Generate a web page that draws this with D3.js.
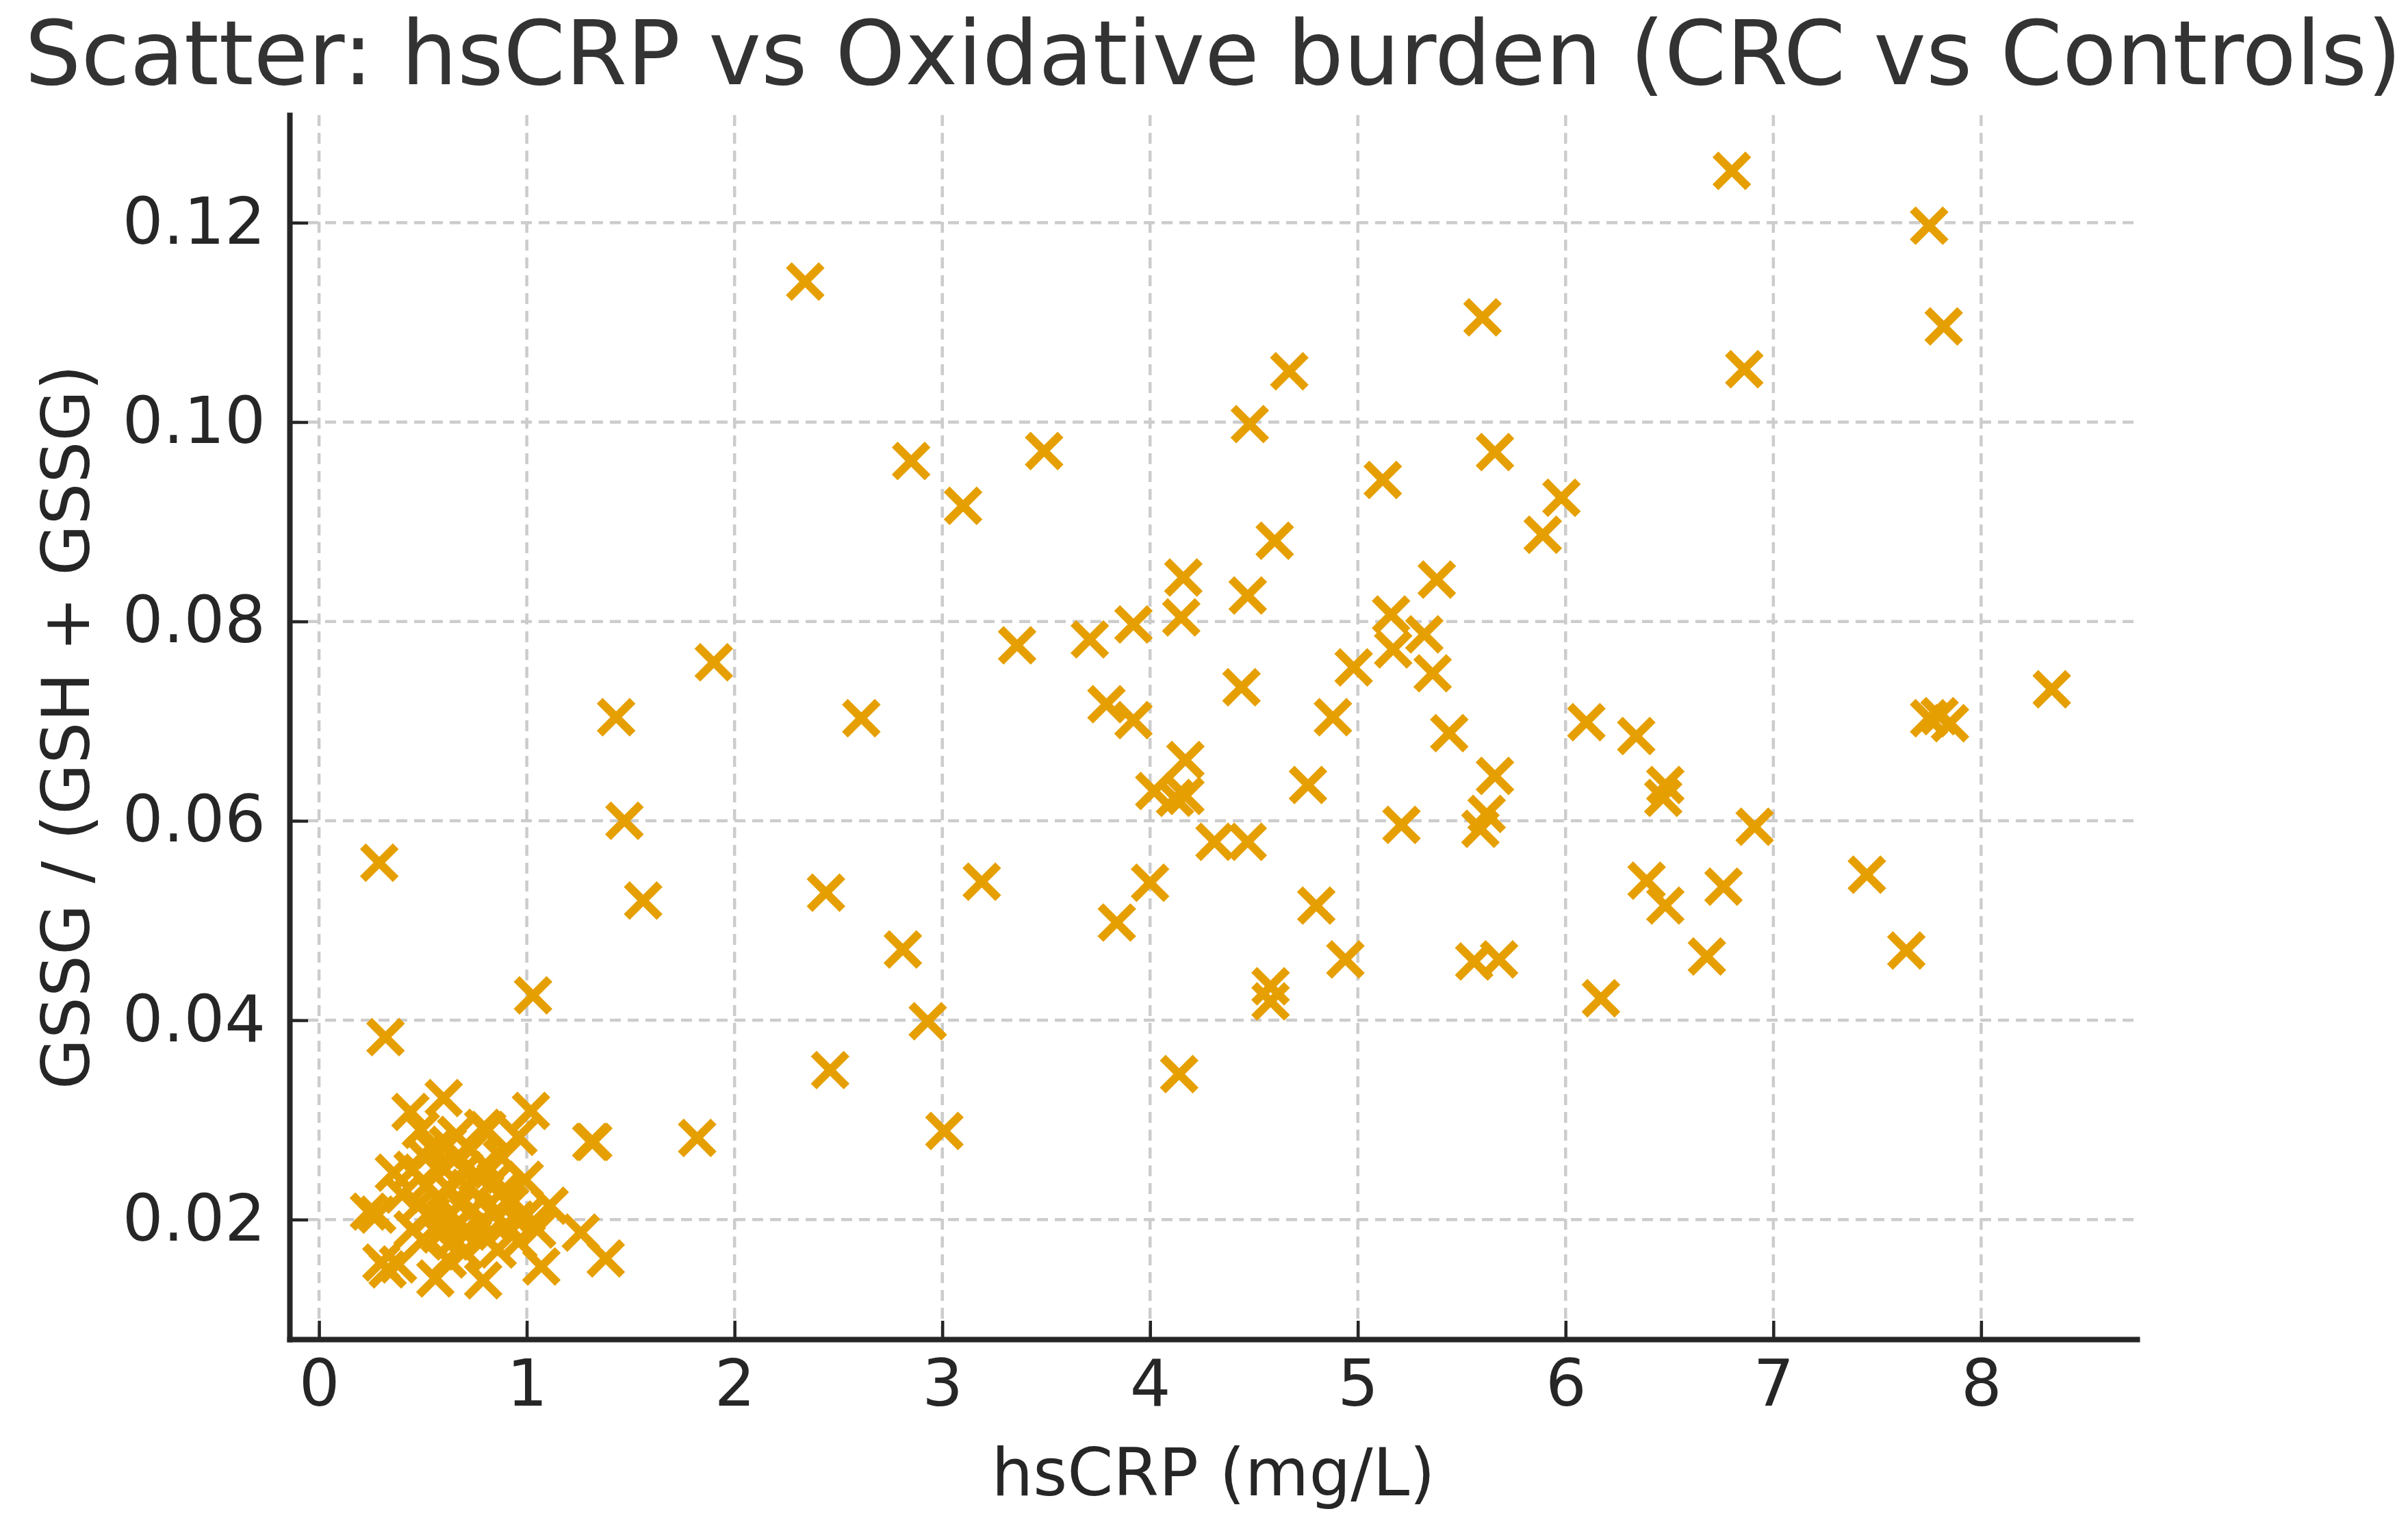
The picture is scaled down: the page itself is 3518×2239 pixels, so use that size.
<!DOCTYPE html>
<meta charset="utf-8">
<head>
  <style>
    html, body { margin: 0; padding: 0; background: #fff; }
    svg text { font-family: 'DejaVu Sans', sans-serif; }
  </style>
  <script src="https://d3js.org/d3.v7.min.js"></script>
</head>
<body>
  <div id="chart"></div>
  <script>

    // hsCRP (mg/L) and GSSG / (GSH + GSSG)
    const hsCRP = [
      // low cluster
      0.24, 0.28, 0.30, 0.33, 0.38, 0.36, 0.44, 0.60, 0.49, 0.79, 1.02, 1.31, 0.81, 0.96, 0.99, 1.11,
      1.26, 1.38, 1.07, 0.79, 0.56, 0.62, 0.50, 0.55, 0.58, 0.62, 0.66, 0.70, 0.52, 0.57, 0.63, 0.68,
      0.72, 0.76, 0.80, 0.85, 0.88, 0.92, 0.84, 0.78, 0.74, 0.66, 0.60, 0.54, 0.48, 0.45, 0.50, 0.58,
      0.64, 0.72, 0.80, 0.90, 0.95, 1.00, 0.86, 0.96, 1.05, 0.70, 0.45, 0.40, 0.66, 0.73, 0.88,
      // spread
      0.29, 0.32, 1.03, 1.43, 1.47, 1.56, 1.90, 1.82, 1.32, 2.34, 2.44, 2.46, 2.61, 2.85, 2.81, 2.93,
      3.01, 3.10, 3.19, 3.36, 3.49, 3.71, 3.79, 3.92, 3.92, 3.84, 4.00, 4.02, 4.12, 4.16, 4.15, 4.17,
      4.17, 4.14, 4.31, 4.47, 4.48, 4.47, 4.44, 4.60, 4.67, 4.58, 4.58, 4.80, 4.76, 4.88, 4.98, 4.94,
      5.12, 5.16, 5.17, 5.32, 5.36, 5.38, 5.44, 5.21, 5.60, 5.66, 5.66, 5.62, 5.59, 5.56, 5.68, 5.89,
      5.98, 6.10, 6.17, 6.34, 6.39, 6.48, 6.47, 6.48, 6.68, 6.76, 6.91, 6.80, 6.86, 7.45, 7.64, 7.75,
      7.82, 7.75, 7.80, 7.85, 8.34
    ];
    const gssgRatio = [
      0.0208, 0.0205, 0.0157, 0.0150, 0.0155, 0.0247, 0.0308, 0.0322, 0.0290, 0.0292, 0.0309, 0.0278, 0.0290, 0.0283, 0.0240, 0.0214,
      0.0187, 0.0161, 0.0153, 0.0139, 0.0141, 0.0160, 0.0265, 0.0270, 0.0255, 0.0275, 0.0262, 0.0250, 0.0235, 0.0222, 0.0230, 0.0215,
      0.0232, 0.0245, 0.0255, 0.0240, 0.0228, 0.0215, 0.0205, 0.0198, 0.0210, 0.0195, 0.0200, 0.0205, 0.0215, 0.0190, 0.0180, 0.0185,
      0.0178, 0.0188, 0.0182, 0.0195, 0.0200, 0.0205, 0.0170, 0.0178, 0.0190, 0.0168, 0.0250, 0.0225, 0.0285, 0.0270, 0.0262,
      0.0558, 0.0383, 0.0425, 0.0704, 0.0600, 0.0520, 0.0759, 0.0282, 0.0278, 0.1141, 0.0528, 0.0350, 0.0703, 0.0961, 0.0471, 0.0399,
      0.0289, 0.0916, 0.0539, 0.0776, 0.0971, 0.0782, 0.0717, 0.0797, 0.0701, 0.0498, 0.0538, 0.0630, 0.0623, 0.0844, 0.0804, 0.0661,
      0.0625, 0.0346, 0.0579, 0.0579, 0.0998, 0.0826, 0.0734, 0.0881, 0.1051, 0.0434, 0.0419, 0.0515, 0.0636, 0.0704, 0.0754, 0.0461,
      0.0942, 0.0807, 0.0772, 0.0787, 0.0748, 0.0842, 0.0688, 0.0596, 0.1105, 0.0970, 0.0645, 0.0607, 0.0592, 0.0459, 0.0461, 0.0887,
      0.0924, 0.0699, 0.0422, 0.0685, 0.0540, 0.0636, 0.0623, 0.0515, 0.0464, 0.0534, 0.0594, 0.1252, 0.1053, 0.0546, 0.0470, 0.1197,
      0.1096, 0.0703, 0.0705, 0.0698, 0.0732
    ];

    const xTicks = [0, 1, 2, 3, 4, 5, 6, 7, 8];
    const yTicks = [0.02, 0.04, 0.06, 0.08, 0.10, 0.12];

    const points = hsCRP.map((v, i) => ({ x: v, y: gssgRatio[i] }));

    const W = 3518, H = 2239;
    const margin = { top: 168, right: 396, bottom: 283, left: 423 };
    const width = W - margin.left - margin.right,
      height = H - margin.top - margin.bottom;

    const svg = d3.select("#chart")
      .append("svg")
      .attr("width", W)
      .attr("height", H);

    const g = svg.append("g")
      .attr("transform", `translate(${margin.left},${margin.top})`);

    const x = d3.scaleLinear().domain([-0.142, 8.75]).range([0, width]);
    const y = d3.scaleLinear().domain([0.008, 0.1308]).range([height, 0]);

    // dashed grid
    g.append("g")
      .attr("class", "grid")
      .selectAll("line.gx")
      .data(xTicks)
      .join("line")
      .attr("x1", d => x(d)).attr("x2", d => x(d))
      .attr("y1", 0).attr("y2", height);
    g.select(".grid")
      .selectAll("line.gy")
      .data(yTicks)
      .join("line")
      .attr("class", "gy")
      .attr("x1", 0).attr("x2", width)
      .attr("y1", d => y(d)).attr("y2", d => y(d));
    g.selectAll(".grid line")
      .style("stroke", "#cccccc")
      .style("stroke-width", 4.5)
      .style("stroke-dasharray", "16,10");

    // markers
    g.append("g")
      .selectAll("path")
      .data(points)
      .join("path")
      .attr("transform", d => `translate(${x(d.x)},${y(d.y)})`)
      .attr("d", "M-24,-24L24,24M-24,24L24,-24")
      .style("fill", "none")
      .style("stroke", "#E69F00")
      .style("stroke-width", 12);

    // axes, ticks pointing inward
    const xAxis = g.append("g")
      .attr("transform", `translate(0,${height})`)
      .call(d3.axisBottom(x).tickValues(xTicks).tickFormat(d3.format("d"))
        .tickSizeInner(-27).tickSizeOuter(0).tickPadding(30));
    const yAxis = g.append("g")
      .call(d3.axisLeft(y).tickValues(yTicks).tickFormat(d3.format(".2f"))
        .tickSizeInner(-27).tickSizeOuter(0).tickPadding(35));

    [xAxis, yAxis].forEach(a => {
      a.selectAll("text")
        .style("font-size", "94px")
        .style("fill", "#262626")
        .style("font-family", "'DejaVu Sans', sans-serif");
      a.selectAll(".tick line")
        .style("stroke", "#262626")
        .style("stroke-width", 4.5);
      a.select(".domain")
        .style("stroke", "#262626")
        .style("stroke-width", 8)
        .style("stroke-linecap", "square");
    });

    // title and axis labels
    svg.append("text")
      .attr("x", margin.left + width / 2)
      .attr("y", 123)
      .attr("text-anchor", "middle")
      .style("font-size", "129.5px")
      .style("fill", "#333333")
      .text("Scatter: hsCRP vs Oxidative burden (CRC vs Controls)");

    svg.append("text")
      .attr("x", margin.left + width / 2)
      .attr("y", 2184)
      .attr("text-anchor", "middle")
      .style("font-size", "96px")
      .style("fill", "#262626")
      .text("hsCRP (mg/L)");

    svg.append("text")
      .attr("transform", `translate(130,${margin.top + height / 2}) rotate(-90)`)
      .attr("text-anchor", "middle")
      .style("font-size", "96px")
      .style("fill", "#262626")
      .text("GSSG / (GSH + GSSG)");

  </script>
</body>
